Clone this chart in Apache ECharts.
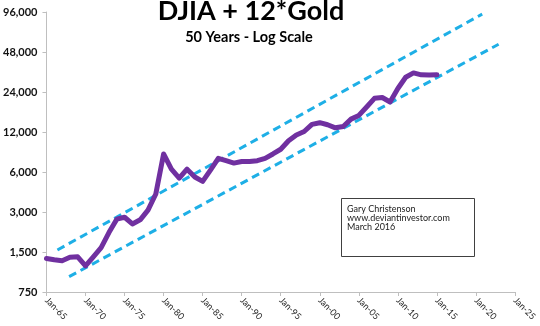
<!DOCTYPE html>
<html><head><meta charset="utf-8">
<script src="https://cdn.jsdelivr.net/npm/echarts@6/dist/echarts.min.js"></script>
<style>html,body{margin:0;padding:0;background:#fff}#c{width:540px;height:326px}</style>
</head><body><div id="c"></div>
<script>
const years = [1965,1966,1967,1968,1969,1970,1971,1972,1973,1974,1975,1976,1977,1978,1979,1980,1981,1982,1983,1984,1985,1986,1987,1988,1989,1990,1991,1992,1993,1994,1995,1996,1997,1998,1999,2000,2001,2002,2003,2004,2005,2006,2007,2008,2009,2010,2011,2012,2013,2014,2015];
const djiaGold = [1340,1310,1290,1370,1380,1180,1380,1620,2100,2650,2740,2440,2620,3100,4100,8200,6300,5400,6300,5500,5100,6200,7600,7300,7000,7200,7200,7300,7600,8200,8900,10300,11400,12100,13700,14100,13600,12900,13200,15000,16000,18500,21500,21800,20200,25500,31000,33400,32300,32200,32300];
const upperYears = [1966.4, 2020.8];
const upperValues = [1553, 92600];
const lowerYears = [1967.9, 2022.9];
const lowerValues = [978, 54900];
const yTicks = [750,1500,3000,6000,12000,24000,48000,96000];
const title = 'DJIA + 12*Gold';
const subtitle = '50 Years - Log Scale';
const note = ['Gary Christenson','www.deviantinvestor.com','March 2016'];

const zip = (a,b)=>a.map((v,i)=>[v,b[i]]);
const chart = echarts.init(document.getElementById('c'), null, {renderer:'canvas'});
const FONT = 'Lato';
chart.setOption({
  animation:false,
  backgroundColor:'#fff',
  title:[
    {text:title,left:251,top:-2,textAlign:'center',padding:0,textStyle:{fontFamily:FONT,fontWeight:'bold',fontSize:27,color:'#000'}},
    {text:subtitle,left:249,top:30,textAlign:'center',padding:0,textStyle:{fontFamily:FONT,fontWeight:'bold',fontSize:14.5,color:'#000'}}
  ],
  grid:{left:45,right:25,top:12,bottom:34,containLabel:false},
  xAxis:{type:'value',min:1965,max:2025,interval:5,
    axisLine:{lineStyle:{color:'#BFBFBF',width:1}},
    axisTick:{length:4,lineStyle:{color:'#BFBFBF'}},
    splitLine:{show:false},
    axisLabel:{rotate:-45,fontFamily:FONT,fontSize:9,color:'#222',margin:7,
      formatter:v=>'Jan-'+String(v%100).padStart(2,'0')}
  },
  yAxis:{type:'log',logBase:2,min:yTicks[0],max:yTicks[yTicks.length-1],interval:1,
    axisLine:{show:true,lineStyle:{color:'#BFBFBF',width:1}},
    axisTick:{show:true,length:4,lineStyle:{color:'#BFBFBF'}},
    splitLine:{show:false},
    axisLabel:{fontFamily:FONT,fontWeight:'bold',fontSize:11,color:'#111',margin:9,
      formatter:v=>Number(Number(v).toPrecision(2)).toLocaleString('en-US')}
  },
  series:[
    {type:'line',data:zip(upperYears,upperValues),symbol:'none',lineStyle:{color:'#1EAFE6',width:3,type:[8,5]},z:2},
    {type:'line',data:zip(lowerYears,lowerValues),symbol:'none',lineStyle:{color:'#1EAFE6',width:3,type:[8,5]},z:2},
    {type:'line',data:zip(years,djiaGold),symbol:'none',lineStyle:{color:'#7030A0',width:5,join:'round',cap:'round'},z:3}
  ],
  graphic:[
    {type:'rect',left:341,top:198,shape:{width:133,height:58},style:{fill:'#fff',stroke:'#404040',lineWidth:1},z:10},
    {type:'text',left:347,top:205,style:{text:note.join('\n'),font:'9px Lato',fill:'#222',lineHeight:9},z:11}
  ]
});
</script></body></html>
